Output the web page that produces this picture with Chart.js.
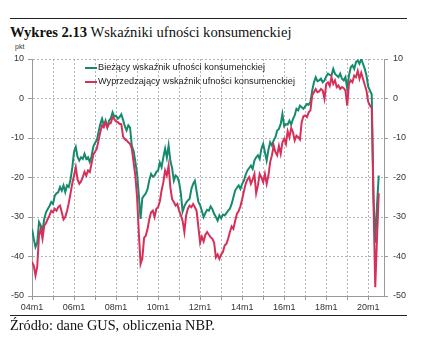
<!DOCTYPE html>
<html lang="pl">
<head>
<meta charset="utf-8">
<script src="https://cdn.jsdelivr.net/npm/chart.js@4.4.1/dist/chart.umd.min.js"></script>
<style>
    body { margin: 0; width: 445px; height: 362px; background: #fff; position: relative; overflow: hidden; }
    .rule { position: absolute; left: 10px; width: 397px; height: 0; border-top: 1.3px solid #222; }
    #title { position: absolute; left: 10px; top: 25px; font-family: 'Liberation Serif', serif; font-size: 14.6px; line-height: 15px; color: #111; white-space: nowrap; }
    #unit { position: absolute; left: 15px; top: 43px; font: 7px 'Liberation Sans', Arial, sans-serif; color: #333; }
    #source { position: absolute; left: 10px; top: 318px; font-family: 'Liberation Serif', serif; font-size: 14.3px; line-height: 14px; color: #111; white-space: nowrap; }
    .leg { position: absolute; left: 85px; font: 9.2px 'Liberation Sans', Arial, sans-serif; line-height: 11px; color: #222; white-space: nowrap; }
    .leg span { display: inline-block; width: 12px; height: 2px; vertical-align: middle; margin-right: 1px; }
    #chart { position: absolute; left: 0; top: 40px; }
</style>
</head>
<body>
<div class="rule" style="top:18px"></div>
<div id="title"><b>Wykres 2.13</b> Wskaźniki ufności konsumenckiej</div>
<div id="unit">pkt</div>
<canvas id="chart" width="420" height="280"></canvas>
<div id="legend"></div>
<div class="rule" style="top:315px"></div>
<div id="source">Źródło: dane GUS, obliczenia NBP.</div>
<script>
// miesiące od 2004m1
var firstYear = 2004;
var xTickLabels = ['04m1', '06m1', '08m1', '10m1', '12m1', '14m1', '16m1', '18m1', '20m1'];
var yTicks = [-50, -40, -30, -20, -10, 0, 10];
var seriesNames = ['Bieżący wskaźnik ufności konsumenckiej', 'Wyprzedzający wskaźnik ufności konsumenckiej'];

var bwuk = [
    -33.0, -35.5, -37.6, -36.5, -31.3, -32.2, -33.4, -30.5, -28.8, -28.0, -27.2, -26.2, // 2004
    -26.7, -24.6, -24.0, -23.7, -22.4, -23.3, -22.0, -23.7, -22.0, -22.4, -20.5, -17.5, // 2005
    -13.5, -12.3, -14.8, -15.7, -14.9, -15.3, -14.0, -15.3, -14.9, -16.1, -14.6, -12.2, // 2006
    -11.2, -10.6, -8.5, -6.4, -5.1, -6.8, -5.6, -7.3, -5.6, -5.0, -3.5, -4.6,           // 2007
    -4.4, -5.1, -4.7, -4.0, -5.4, -7.0, -8.1, -6.8, -7.4, -12.0, -13.2, -16.0,          // 2008
    -19.0, -24.5, -30.5, -25.2, -24.6, -24.0, -22.9, -20.6, -19.1, -19.8, -19.5, -18.6, // 2009
    -18.2, -16.2, -17.4, -14.9, -12.7, -15.0, -11.9, -15.7, -17.6, -20.8, -19.5, -19.9, // 2010
    -21.2, -24.0, -28.6, -27.3, -26.4, -25.8, -25.4, -22.9, -21.6, -20.8, -23.5, -26.2, // 2011
    -27.0, -28.5, -30.0, -29.0, -28.2, -28.4, -27.3, -28.0, -29.2, -30.0, -30.9, -29.6, // 2012
    -30.3, -29.4, -29.6, -29.0, -28.4, -27.9, -26.7, -25.0, -23.3, -22.6, -22.0, -22.9, // 2013
    -21.6, -20.8, -19.3, -18.2, -17.6, -17.0, -17.8, -15.7, -14.9, -14.4, -15.3, -12.7, // 2014
    -11.5, -13.6, -15.7, -13.0, -11.1, -11.9, -10.6, -9.8, -8.1, -7.7, -6.5, -3.9,      // 2015
    -7.0, -6.5, -6.6, -5.6, -6.6, -5.2, -4.3, -2.6, -3.0, -1.8, -2.2, -2.6,             // 2016
    -2.0, -1.4, -1.6, -0.9, 2.0, 4.1, 5.4, 4.4, 4.6, 5.0, 4.1, 4.6,                     // 2017
    5.6, 6.3, 6.0, 5.8, 7.5, 6.3, 5.8, 5.4, 6.3, 5.0, 4.6, 5.4,                         // 2018
    2.4, 5.8, 7.9, 8.4, 7.5, 9.2, 9.6, 8.8, 10.0, 8.8, 7.5, 5.8,                        // 2019
    3.0, 2.0, 1.0, -25.0, -36.5, -27.0, -19.5                                           // 2020
];

var wwuk = [
    -41.4, -42.3, -44.8, -42.5, -34.7, -33.0, -35.5, -32.2, -31.5, -30.5, -29.6, -28.4, // 2004
    -28.8, -27.9, -28.4, -27.5, -27.1, -28.8, -30.6, -30.0, -28.5, -26.5, -24.0, -21.5, // 2005
    -19.5, -17.4, -20.5, -21.6, -21.0, -19.9, -18.6, -19.5, -18.2, -18.6, -16.5, -14.2, // 2006
    -13.5, -12.7, -10.6, -8.5, -6.8, -7.3, -6.0, -7.3, -6.4, -6.2, -4.7, -5.2,          // 2007
    -5.8, -6.0, -6.4, -6.5, -9.6, -10.3, -10.6, -11.1, -11.5, -12.7, -16.1, -19.5,      // 2008
    -25.0, -34.0, -41.9, -40.5, -35.3, -34.7, -33.0, -30.5, -28.8, -28.4, -30.0, -27.9, // 2009
    -27.5, -26.0, -23.3, -21.2, -18.2, -19.5, -17.0, -22.5, -25.5, -26.2, -27.1, -26.7, // 2010
    -28.4, -29.6, -31.0, -33.8, -29.6, -27.9, -27.1, -27.5, -26.7, -27.5, -28.5, -32.5, // 2011
    -36.5, -35.0, -36.2, -34.5, -33.8, -34.5, -35.1, -35.5, -36.5, -40.2, -39.5, -40.6, // 2012
    -39.5, -38.9, -37.2, -36.8, -35.5, -33.8, -32.4, -33.0, -31.0, -29.2, -28.5, -27.3, // 2013
    -25.5, -23.5, -21.6, -20.5, -19.9, -21.6, -20.5, -19.1, -24.0, -22.0, -19.1, -20.0, // 2014
    -21.2, -19.1, -21.6, -19.5, -16.1, -14.4, -11.9, -13.6, -14.4, -12.0, -14.0, -11.1, // 2015
    -10.2, -11.5, -8.3, -9.8, -7.5, -8.5, -10.6, -9.4, -9.8, -10.4, -6.0, -4.5,         // 2016
    -4.3, -4.7, -3.5, -3.0, 0.8, 1.6, 2.4, 1.6, 1.8, 2.4, 2.0, -0.1,                    // 2017
    3.7, 4.1, 3.2, 5.4, 3.7, 4.6, 2.9, 3.3, 2.4, 2.9, 2.6, 2.0,                         // 2018
    -1.8, 3.7, 4.6, 4.1, 5.8, 5.4, 7.0, 5.0, 6.5, 5.0, 3.5, 2.0,                        // 2019
    -0.9, -1.8, -2.4, -26.0, -47.8, -35.5, -24.0                                        // 2020
];

var colors = ['#168a6c', '#d6305a'];

function toPoints(arr) {
    return arr.map(function(v, i) { return { x: i, y: v }; });
}

var font = { family: "'Liberation Sans', Arial, sans-serif", size: 9 };
var gridColor = '#b4b4b4';
var axisColor = '#9a9a9a';

var ctx = document.getElementById('chart').getContext('2d');
var chart = new Chart(ctx, {
    type: 'line',
    data: {
        datasets: [{
            label: seriesNames[0],
            data: toPoints(bwuk),
            borderColor: colors[0],
            borderWidth: 2,
            pointRadius: 0,
            order: 2
        }, {
            label: seriesNames[1],
            data: toPoints(wwuk),
            borderColor: colors[1],
            borderWidth: 2,
            pointRadius: 0,
            order: 1
        }]
    },
    options: {
        responsive: false,
        animation: false,
        events: [],
        layout: { padding: { top: 19 } },
        plugins: { legend: { display: false }, tooltip: { enabled: false } },
        scales: {
            x: {
                type: 'linear',
                min: 0,
                max: 201,
                afterBuildTicks: function(scale) {
                    var t = [];
                    for (var k = 0; k * 12 <= 192; k++) t.push({ value: k * 12 });
                    scale.ticks = t;
                },
                afterFit: function(scale) { scale.height = 24; },
                ticks: {
                    autoSkip: false,
                    maxRotation: 0,
                    padding: 2,
                    color: '#333',
                    font: font,
                    callback: function(value) {
                        var k = Math.round(value / 12);
                        return k % 2 === 0 ? xTickLabels[k / 2] : '';
                    }
                },
                grid: { color: gridColor, tickColor: axisColor, tickLength: 4, tickBorderDash: [] },
                border: { color: axisColor, dash: [2, 2] }
            },
            y: {
                position: 'left',
                min: -50,
                max: 10,
                afterBuildTicks: function(scale) {
                    scale.ticks = yTicks.map(function(v) { return { value: v }; });
                },
                afterFit: function(scale) { scale.width = 32; },
                ticks: { padding: 4, color: '#333', font: font },
                grid: { color: gridColor, tickColor: axisColor, tickLength: 4, tickBorderDash: [] },
                border: { color: axisColor, dash: [2, 2] }
            },
            y2: {
                position: 'right',
                min: -50,
                max: 10,
                afterBuildTicks: function(scale) {
                    scale.ticks = yTicks.map(function(v) { return { value: v }; });
                },
                afterFit: function(scale) { scale.width = 36; },
                ticks: { padding: 5, color: '#333', font: font },
                grid: { drawOnChartArea: false, tickColor: axisColor, tickLength: 4 },
                border: { color: axisColor }
            }
        }
    }
});

// legenda wewnątrz wykresu
var legend = document.getElementById('legend');
chart.data.datasets.forEach(function(ds, i) {
    var row = document.createElement('div');
    row.className = 'leg';
    row.style.top = (62 + i * 14) + 'px';
    row.innerHTML = '<span style="background:' + ds.borderColor + '"></span>' + ds.label;
    legend.appendChild(row);
});
</script>
</body>
</html>
